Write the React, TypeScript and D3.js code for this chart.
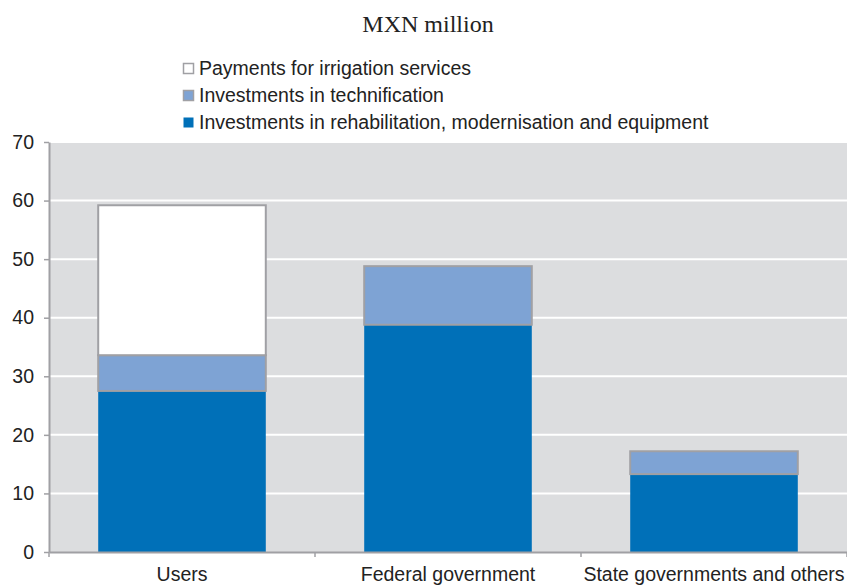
import * as d3 from 'd3'
import { useEffect, useRef } from 'react'

const categories = ['Users', 'Federal government', 'State governments and others']
const rehabilitation = [27.5, 38.8, 13.3]
const technification = [6.1, 10.0, 3.9]
const payments = [25.6, 0, 0]
const yTicks = [0, 10, 20, 30, 40, 50, 60, 70]

const seriesNames = [
    'Payments for irrigation services',
    'Investments in technification',
    'Investments in rehabilitation, modernisation and equipment',
]

const WIDTH = 847
const HEIGHT = 585
const MARGIN = { top: 142, right: 0, bottom: 33, left: 49 }

const DARK = '#0070b8'
const LIGHT = '#7ea3d4'
const EDGE = '#a0a0a4'
const FONT = '"Liberation Sans", Arial, sans-serif'

/* Y axis */
const AxisLeft = ({ scale }: { scale: d3.ScaleLinear<number, number, never> }) => {
    const ref = useRef<SVGGElement>(null)
    useEffect(() => {
        if (ref.current) {
            const g = d3.select(ref.current)
            g.call(d3.axisLeft(scale).tickValues(yTicks).tickSize(5).tickPadding(10).tickSizeOuter(0))
            g.select('.domain').attr('stroke', EDGE).attr('stroke-width', 2)
            g.selectAll('.tick line').attr('stroke', EDGE).attr('stroke-width', 1.5)
            g.selectAll('.tick text')
                .attr('fill', '#222')
                .style('font-family', FONT)
                .style('font-size', '19.5px')
        }
    }, [scale])
    return <g ref={ref} />
}

/* X axis */
const AxisBottom = ({ scale, transform }: { scale: d3.ScaleBand<string>, transform: string }) => {
    const ref = useRef<SVGGElement>(null)
    useEffect(() => {
        if (ref.current) {
            const g = d3.select(ref.current)
            g.call(d3.axisBottom(scale).tickSize(0).tickPadding(15).tickSizeOuter(0))
            g.select('.domain').attr('stroke', EDGE).attr('stroke-width', 2)
            g.selectAll('.tick text')
                .attr('fill', '#222')
                .style('font-family', FONT)
                .style('font-size', '19.5px')
            // tick marks on the category boundaries
            const bounds = [0, ...scale.domain().map((d) => (scale(d) as number) + scale.bandwidth() + scale.step() * scale.paddingOuter())]
            g.selectAll('line.sep').remove()
            g.selectAll('line.sep')
                .data(bounds)
                .enter()
                .append('line')
                .attr('class', 'sep')
                .attr('x1', (d) => d)
                .attr('x2', (d) => d)
                .attr('y1', 0)
                .attr('y2', 5)
                .attr('stroke', EDGE)
                .attr('stroke-width', 1.5)
        }
    }, [scale])
    return <g ref={ref} transform={transform} />
}

export default function App() {
    const boundsWidth = WIDTH - MARGIN.left - MARGIN.right
    const boundsHeight = HEIGHT - MARGIN.top - MARGIN.bottom

    const xScale = d3.scaleBand<string>()
        .domain(categories)
        .range([0, boundsWidth])
        .paddingInner(0.37)
        .paddingOuter(0.185)

    const yScale = d3.scaleLinear().domain([0, 70]).range([boundsHeight, 0])

    const stackData = categories.map((c, i) => ({
        cat: c,
        rehab: rehabilitation[i],
        tech: technification[i],
        pay: payments[i],
    }))
    const stack = d3.stack<any>().keys(['rehab', 'tech', 'pay'])(stackData)
    const fills = [DARK, LIGHT, '#ffffff']
    const strokes = ['none', EDGE, EDGE]

    const legendColors = ['#ffffff', LIGHT, DARK]

    return (
        <svg width={WIDTH} height={HEIGHT} style={{ position: 'absolute', left: 0, top: 0 }}>
            <rect width={WIDTH} height={HEIGHT} fill="#ffffff" />
            <text x={428} y={32} textAnchor="middle" fontFamily='"Liberation Serif", "Times New Roman", serif' fontSize={24} fill="#222">
                MXN million
            </text>
            {seriesNames.map((name, i) => (
                <g key={name} transform={`translate(183, ${63 + i * 27})`}>
                    <rect x={0.5} y={0.5} width={10} height={10} fill={legendColors[i]} stroke={i === 2 ? 'none' : EDGE} strokeWidth={1.5} />
                    <text x={16} y={12} fontFamily={FONT} fontSize={19.5} fill="#222">
                        {name}
                    </text>
                </g>
            ))}
            <g transform={`translate(${MARGIN.left}, ${MARGIN.top})`}>
                <rect width={boundsWidth} height={boundsHeight} fill="#dcdddf" />
                {yTicks.filter((t) => t > 0).map((t) => (
                    <line key={t} x1={0} x2={boundsWidth} y1={yScale(t)} y2={yScale(t)} stroke="#ffffff" strokeWidth={2} />
                ))}
                {stack.map((layer, li) =>
                    layer.map((d, i) => {
                        const h = yScale(d[0]) - yScale(d[1])
                        if (h <= 0) return null
                        return (
                            <rect
                                key={`${li}-${i}`}
                                x={xScale(categories[i])}
                                y={yScale(d[1])}
                                width={xScale.bandwidth()}
                                height={h}
                                fill={fills[li]}
                                stroke={strokes[li]}
                                strokeWidth={2}
                            />
                        )
                    })
                )}
                <AxisLeft scale={yScale} />
                <AxisBottom scale={xScale} transform={`translate(0, ${boundsHeight})`} />
            </g>
        </svg>
    )
}
